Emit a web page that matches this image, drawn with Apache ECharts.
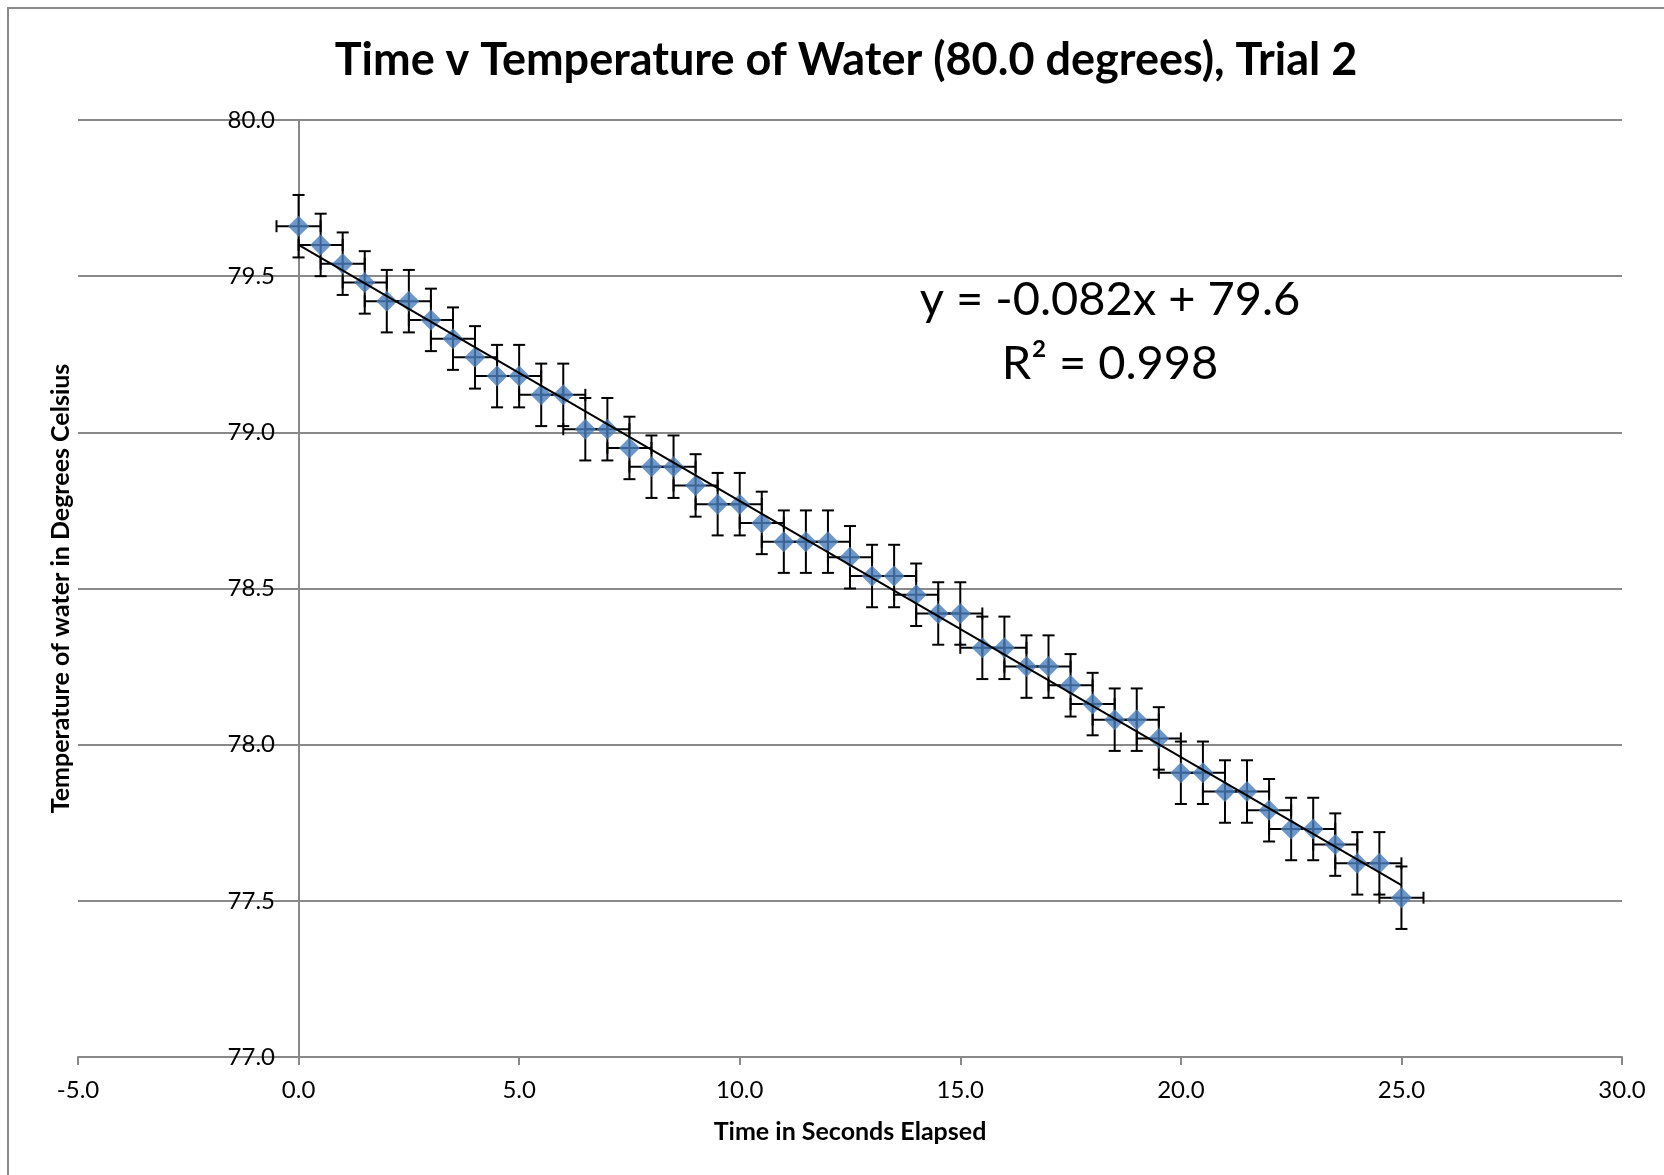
<!DOCTYPE html>
<html>
<head>
<meta charset="utf-8">
<title>Time v Temperature of Water (80.0 degrees), Trial 2</title>
<script src="https://cdn.jsdelivr.net/npm/echarts@6/dist/echarts.min.js"></script>
<style>
  html, body { margin: 0; padding: 0; background: #ffffff; }
  #chart { width: 1664px; height: 1175px; }
</style>
</head>
<body>
<div id="chart"></div>
<script>
// Elapsed time (s) at each reading
const timeSeconds = [
  0, 0.5, 1, 1.5, 2, 2.5, 3, 3.5, 4, 4.5,
  5, 5.5, 6, 6.5, 7, 7.5, 8, 8.5, 9, 9.5,
  10, 10.5, 11, 11.5, 12, 12.5, 13, 13.5, 14, 14.5,
  15, 15.5, 16, 16.5, 17, 17.5, 18, 18.5, 19, 19.5,
  20, 20.5, 21, 21.5, 22, 22.5, 23, 23.5, 24, 24.5,
  25
];

// Water temperature (deg C) at each reading
const waterTemp = [
  79.66, 79.60, 79.54, 79.48, 79.42, 79.42, 79.36, 79.30, 79.24, 79.18,
  79.18, 79.12, 79.12, 79.01, 79.01, 78.95, 78.89, 78.89, 78.83, 78.77,
  78.77, 78.71, 78.65, 78.65, 78.65, 78.60, 78.54, 78.54, 78.48, 78.42,
  78.42, 78.31, 78.31, 78.25, 78.25, 78.19, 78.13, 78.08, 78.08, 78.02,
  77.91, 77.91, 77.85, 77.85, 77.79, 77.73, 77.73, 77.68, 77.62, 77.62,
  77.51
];

// Measurement uncertainty
const tempError = 0.1;   // +/- deg C
const timeError = 0.5;   // +/- s

// Linear fit y = slope * x + intercept, plotted over the measured range
const fitSlope = -0.082;
const fitIntercept = 79.6;
const fitRSquared = 0.998;
const fitRange = [0, 25];

// Axis ranges and steps
const xRange = [-5, 30];
const xStep = 5;
const yRange = [77, 80];
const yStep = 0.5;

const FONT = 'Lato, "Open Sans", sans-serif';
const GRID_GRAY = '#898989';

const points = timeSeconds.map((t, i) => [t, waterTemp[i]]);
const fitLine = fitRange.map(x => [x, +(fitSlope * x + fitIntercept).toFixed(4)]);

const chart = echarts.init(document.getElementById('chart'), null, { renderer: 'canvas' });

function renderErrorBars(params, api) {
  const x = api.value(0);
  const y = api.value(1);
  const top = api.coord([x, y + tempError]);
  const bottom = api.coord([x, y - tempError]);
  const left = api.coord([x - timeError, y]);
  const right = api.coord([x + timeError, y]);
  const cap = 6;
  const style = { stroke: '#000000', lineWidth: 2, fill: null };
  const seg = (x1, y1, x2, y2) => ({
    type: 'line',
    shape: { x1, y1, x2, y2 },
    style
  });
  return {
    type: 'group',
    children: [
      seg(top[0], top[1], bottom[0], bottom[1]),
      seg(top[0] - cap, top[1], top[0] + cap, top[1]),
      seg(bottom[0] - cap, bottom[1], bottom[0] + cap, bottom[1]),
      seg(left[0], left[1], right[0], right[1]),
      seg(left[0], left[1] - cap, left[0], left[1] + cap),
      seg(right[0], right[1] - cap, right[0], right[1] + cap)
    ]
  };
}

const option = {
  backgroundColor: '#ffffff',
  animation: false,
  title: {
    text: 'Time v Temperature of Water (80.0 degrees), Trial 2',
    left: 841,
    top: 33,
    textAlign: 'center',
    textStyle: {
      fontFamily: FONT,
      fontWeight: 'bold',
      fontSize: 45,
      color: '#000000'
    }
  },
  grid: {
    left: 78,
    right: 42,
    top: 120,
    bottom: 118,
    containLabel: false,
    outerBoundsMode: 'none'
  },
  xAxis: {
    type: 'value',
    min: xRange[0],
    max: xRange[1],
    interval: xStep,
    name: 'Time in Seconds Elapsed',
    nameLocation: 'middle',
    nameGap: 62,
    nameTextStyle: {
      fontFamily: FONT,
      fontWeight: 'bold',
      fontSize: 25,
      color: '#000000'
    },
    axisLine: { show: true, lineStyle: { color: GRID_GRAY, width: 2 } },
    axisTick: { show: true, length: 8, lineStyle: { color: GRID_GRAY, width: 2 } },
    axisLabel: {
      margin: 21,
      fontFamily: FONT,
      fontSize: 24,
      color: '#000000',
      formatter: v => v.toFixed(1)
    },
    splitLine: { show: false }
  },
  yAxis: {
    type: 'value',
    min: yRange[0],
    max: yRange[1],
    interval: yStep,
    name: 'Temperature of water in Degrees Celsius',
    nameLocation: 'middle',
    nameGap: 5,
    nameRotate: 90,
    nameTextStyle: {
      fontFamily: FONT,
      fontWeight: 'bold',
      fontSize: 25,
      color: '#000000'
    },
    axisLine: { show: true, onZero: true, lineStyle: { color: GRID_GRAY, width: 2 } },
    axisTick: { show: false },
    axisLabel: {
      // labels sit just left of the x = 0 axis line
      margin: -197,
      fontFamily: FONT,
      fontSize: 24,
      color: '#000000',
      formatter: v => v.toFixed(1)
    },
    splitLine: { show: true, lineStyle: { color: GRID_GRAY, width: 2 } }
  },
  graphic: [
    {
      type: 'rect',
      silent: true,
      shape: { x: 8, y: 8, width: 1700, height: 1200 },
      style: { fill: null, stroke: '#8a8a8a', lineWidth: 2 }
    },
    {
      type: 'text',
      silent: true,
      x: 1110,
      y: 268,
      style: {
        text: 'y = ' + fitSlope.toFixed(3) + 'x + ' + fitIntercept.toFixed(1) + '\nR\u00B2 = ' + fitRSquared.toFixed(3),
        align: 'center',
        verticalAlign: 'top',
        lineHeight: 64,
        fontFamily: FONT,
        fontSize: 47,
        fill: '#000000'
      }
    }
  ],
  series: [
    {
      name: 'Error bars',
      type: 'custom',
      renderItem: renderErrorBars,
      data: points,
      encode: { x: 0, y: 1 },
      z: 2
    },
    {
      name: 'Temperature',
      type: 'scatter',
      data: points,
      symbol: 'diamond',
      symbolSize: [21, 21],
      itemStyle: { color: '#4a7ebb' },
      z: 3
    },
    {
      name: 'Linear fit',
      type: 'line',
      data: fitLine,
      showSymbol: false,
      symbol: 'none',
      lineStyle: { color: '#000000', width: 2 },
      z: 4
    }
  ]
};

chart.setOption(option);
</script>
</body>
</html>
